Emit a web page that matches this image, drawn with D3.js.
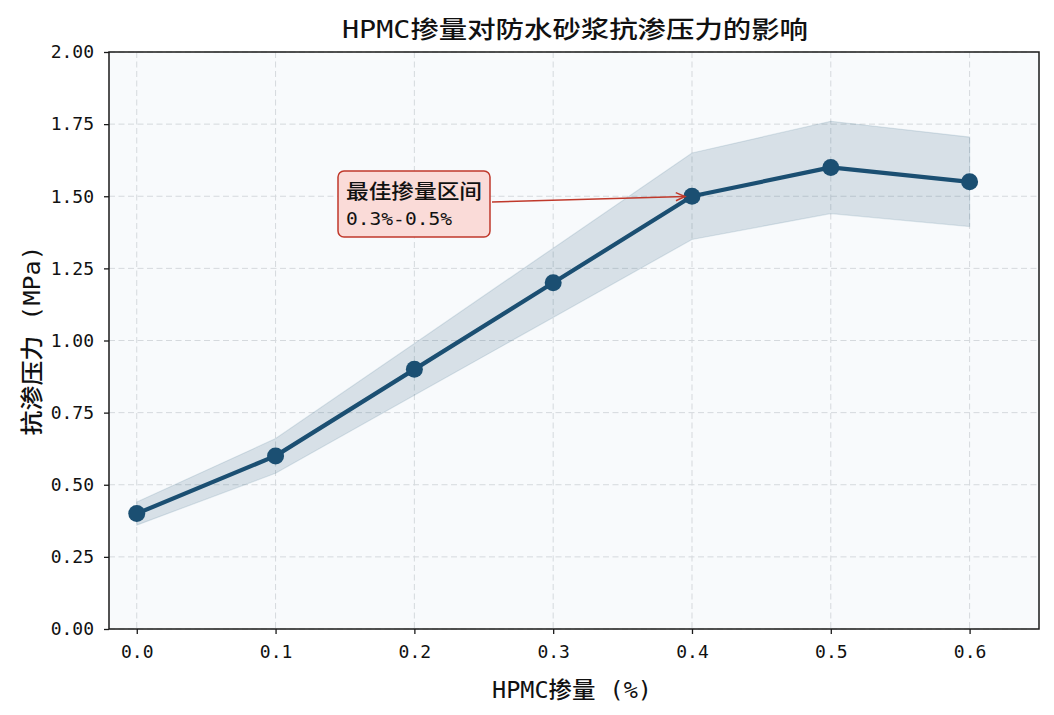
<!DOCTYPE html>
<html>
<head>
<meta charset="utf-8">
<script src="https://cdn.jsdelivr.net/npm/d3@7"></script>
<style>
  html, body { margin: 0; padding: 0; background: #ffffff; }
  svg { display: block; }
</style>
</head>
<body>
<svg id="chart" width="1054" height="715"></svg>
<script>
// ---- data ----
const dosage = [0.0, 0.1, 0.2, 0.3, 0.4, 0.5, 0.6];
const pressure = [0.40, 0.60, 0.90, 1.20, 1.50, 1.60, 1.55];
const bandLower = [0.36, 0.54, 0.81, 1.08, 1.35, 1.44, 1.395];
const bandUpper = [0.44, 0.66, 0.99, 1.32, 1.65, 1.76, 1.705];
const xTicks = [0.0, 0.1, 0.2, 0.3, 0.4, 0.5, 0.6];
const yTicks = [0.00, 0.25, 0.50, 0.75, 1.00, 1.25, 1.50, 1.75, 2.00];
const titleText = "HPMC掺量对防水砂浆抗渗压力的影响";
const xLabelText = "HPMC掺量 (%)";
const yLabelText = "抗渗压力 (MPa)";
const annoLines = ["最佳掺量区间", "0.3%-0.5%"];
const annoTarget = [0.4, 1.5];

// ---- layout ----
const L = 109, R = 1039, T = 52, B = 629;
const monoFont = "'DejaVu Sans Mono', 'Noto Sans CJK SC', monospace";
const cjkFont = "'DejaVu Sans Mono', 'Noto Sans CJK SC', sans-serif";
const lineColor = "#1b4f72";

const svg = d3.select("#chart");
const x = d3.scaleLinear().domain([-0.02, 0.65]).range([L, R]);
const y = d3.scaleLinear().domain([0, 2]).range([B, T]);

// plot background
svg.append("rect").attr("x", L).attr("y", T).attr("width", R - L).attr("height", B - T)
  .attr("fill", "#f8fafc");

// grid
const grid = svg.append("g");
grid.selectAll("line.vx").data(xTicks).join("line")
  .attr("x1", d => x(d)).attr("x2", d => x(d)).attr("y1", T).attr("y2", B)
  .attr("stroke", "#d5d9dd").attr("stroke-width", 1).attr("stroke-dasharray", "6,3.5");
grid.selectAll("line.hy").data(yTicks).join("line")
  .attr("x1", L).attr("x2", R).attr("y1", d => y(d)).attr("y2", d => y(d))
  .attr("stroke", "#d5d9dd").attr("stroke-width", 1).attr("stroke-dasharray", "6,3.5");

// band
const bandData = dosage.map((d, i) => ({ x: d, lo: bandLower[i], hi: bandUpper[i] }));
const area = d3.area().x(d => x(d.x)).y0(d => y(d.lo)).y1(d => y(d.hi));
svg.append("path").datum(bandData).attr("d", area)
  .attr("fill", lineColor).attr("fill-opacity", 0.15)
  .attr("stroke", lineColor).attr("stroke-opacity", 0.12).attr("stroke-width", 1.2);

// line
const pts = dosage.map((d, i) => ({ x: d, y: pressure[i] }));
svg.append("path").datum(pts)
  .attr("d", d3.line().x(d => x(d.x)).y(d => y(d.y)))
  .attr("fill", "none").attr("stroke", lineColor).attr("stroke-width", 4.2)
  .attr("stroke-linejoin", "round");
svg.selectAll("circle.pt").data(pts).join("circle")
  .attr("cx", d => x(d.x)).attr("cy", d => y(d.y)).attr("r", 8.5)
  .attr("fill", lineColor);

// axes spines
svg.append("rect").attr("x", L).attr("y", T).attr("width", R - L).attr("height", B - T)
  .attr("fill", "none").attr("stroke", "#1a1a1a").attr("stroke-width", 1.5);

// x axis
const xAxis = d3.axisBottom(x).tickValues(xTicks).tickFormat(d3.format(".1f")).tickSize(5).tickPadding(11);
const gx = svg.append("g").attr("transform", `translate(0,${B})`).call(xAxis);
gx.select(".domain").remove();
gx.selectAll(".tick line").attr("stroke", "#1a1a1a").attr("stroke-width", 1.3);
gx.selectAll(".tick text").attr("font-family", monoFont).attr("font-size", 18).attr("fill", "#111");

// y axis
const yAxis = d3.axisLeft(y).tickValues(yTicks).tickFormat(d3.format(".2f")).tickSize(5).tickPadding(10);
const gy = svg.append("g").attr("transform", `translate(${L},0)`).call(yAxis);
gy.select(".domain").remove();
gy.selectAll(".tick line").attr("stroke", "#1a1a1a").attr("stroke-width", 1.3);
gy.selectAll(".tick text").attr("font-family", monoFont).attr("font-size", 18).attr("fill", "#111");

// title
svg.append("text").attr("x", (L + R) / 2 + 1).attr("y", 38).attr("text-anchor", "middle")
  .attr("font-family", cjkFont).attr("font-size", 24).attr("font-weight", 500).attr("fill", "#111")
  .attr("textLength", 466).attr("lengthAdjust", "spacingAndGlyphs")
  .text(titleText);

// x label
svg.append("text").attr("x", (L + R) / 2 - 2).attr("y", 698).attr("text-anchor", "middle")
  .attr("font-family", cjkFont).attr("font-size", 23).attr("font-weight", 500).attr("fill", "#111")
  .attr("textLength", 160).attr("lengthAdjust", "spacingAndGlyphs")
  .text(xLabelText);

// y label
svg.append("text").attr("transform", `translate(40,${(T + B) / 2}) rotate(-90)`)
  .attr("text-anchor", "middle")
  .attr("font-family", cjkFont).attr("font-size", 23).attr("font-weight", 500).attr("fill", "#111")
  .attr("textLength", 190).attr("lengthAdjust", "spacingAndGlyphs")
  .text(yLabelText);

// annotation
const boxX = 338, boxY = 171, boxW = 152, boxH = 66;
const tx = x(annoTarget[0]), ty = y(annoTarget[1]);
const startX = boxX + boxW, startY = boxY + boxH / 2 - 2;
const ang = Math.atan2(ty - startY, tx - startX);
const endX = tx - 7 * Math.cos(ang), endY = ty - 7 * Math.sin(ang);
const annoG = svg.append("g");
annoG.append("line").attr("x1", startX + 2).attr("y1", startY).attr("x2", endX).attr("y2", endY)
  .attr("stroke", "#c0392b").attr("stroke-width", 1.5);
const hl = 10, ha = 0.42;
annoG.append("path")
  .attr("d", `M${endX - hl * Math.cos(ang - ha)},${endY - hl * Math.sin(ang - ha)} L${endX},${endY} L${endX - hl * Math.cos(ang + ha)},${endY - hl * Math.sin(ang + ha)}`)
  .attr("fill", "none").attr("stroke", "#c0392b").attr("stroke-width", 1.5);
annoG.append("rect").attr("x", boxX).attr("y", boxY).attr("width", boxW).attr("height", boxH)
  .attr("rx", 6).attr("ry", 6).attr("fill", "#fadbd8").attr("stroke", "#c0392b").attr("stroke-width", 1.5);
annoG.append("text").attr("x", 346).attr("y", 199)
  .attr("font-family", cjkFont).attr("font-size", 20).attr("font-weight", 500).attr("fill", "#111")
  .attr("textLength", 136).attr("lengthAdjust", "spacingAndGlyphs")
  .text(annoLines[0]);
annoG.append("text").attr("x", 346).attr("y", 225)
  .attr("font-family", monoFont).attr("font-size", 18).attr("fill", "#111")
  .attr("textLength", 106).attr("lengthAdjust", "spacingAndGlyphs")
  .text(annoLines[1]);
</script>
</body>
</html>
